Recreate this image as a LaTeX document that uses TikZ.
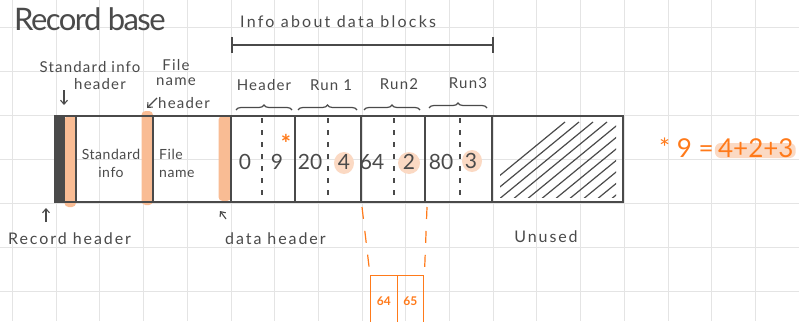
\documentclass[tikz,border=0pt]{standalone}
\usepackage{fontspec}
\setmainfont{Lato}
\usetikzlibrary{decorations.pathreplacing,arrows.meta,backgrounds}
\definecolor{ink}{HTML}{4A4A4A}
\definecolor{gridc}{HTML}{E4E4E4}
\definecolor{peach}{HTML}{F9BC94}
\definecolor{softpeach}{HTML}{FBD9C3}
\definecolor{orng}{HTML}{FF7A1A}
\tikzset{
  lbl/.style={text=ink, inner sep=0pt, font=\fontsize{15}{16}\selectfont\addfontfeature{LetterSpace=8}},
  lowlbl/.style={text=ink, inner sep=0pt, font=\fontsize{16}{16}\selectfont\addfontfeature{LetterSpace=12}},
  cell/.style={text=ink, inner sep=0pt, font=\fontsize{14}{15}\selectfont\addfontfeature{LetterSpace=4}},
  num/.style={text=ink, inner sep=0pt, font=\fontsize{21}{21}\selectfont},
  bar/.style={draw=ink, line width=1.8pt},
  sep/.style={draw=ink, line width=1.3pt},
  dsep/.style={draw=ink, line width=1.1pt, dash pattern=on 5pt off 7pt},
  strip/.style={fill=peach, draw=none, rounded corners=4pt},
  hilite/.style={fill=softpeach, draw=none},
  pointer/.style={draw=ink, line width=1.1pt, -{Straight Barb[length=4pt,width=7pt]}},
  bracetop/.style={draw=ink, line width=1.2pt, decorate, decoration={brace, amplitude=5pt}},
  olink/.style={draw=orng, line width=1.2pt, dash pattern=on 12pt off 12pt},
  obox/.style={draw=orng, line width=1.4pt},
  otext/.style={text=orng, inner sep=0pt},
}
\begin{document}
\begin{tikzpicture}[x=1pt,y=-1pt]
\useasboundingbox (0,0) rectangle (799,321);
\begin{scope}[on background layer]
\fill[white] (0,0) rectangle (799,321);
% squared paper
\foreach \k in {0,...,18} \draw[gridc, line width=0.9pt] (12.5+43.7*\k,0) -- (12.5+43.7*\k,321);
\foreach \k in {0,...,6} \draw[gridc, line width=0.9pt] (0,27.5+44*\k) -- (799,27.5+44*\k);
\end{scope}

% title and top bracket
\node[text=ink, inner sep=0pt, anchor=west, font=\fontsize{31}{31}\selectfont\addfontfeature{LetterSpace=-5}] (title) at (14,19) {Record base};
\node[text=ink, inner sep=0pt, anchor=west, font=\fontsize{16}{16}\selectfont\addfontfeature{LetterSpace=14}] (info) at (240,22) {Info about data blocks};
\coordinate (infoL) at (232,45);
\coordinate (infoR) at (493,45);
\draw[ink, line width=2.2pt] (infoL) -- (infoR);
\draw[ink, line width=2.2pt] (232,37) -- (232,53) (493,37) -- (493,53);

% orange strips behind the header separators
\fill[strip] (64.5,116) rectangle (76,207);
\fill[strip] (141.5,111) rectangle (153,205);
\fill[strip] (218.5,116) rectangle (231,201);
\fill[ink] (55,116) rectangle (65,202);

% highlights behind the run lengths
\fill[hilite] (344,163) ellipse (10pt and 11pt);
\fill[hilite] (409,163) ellipse (11pt and 11pt);
\fill[hilite] (472,161) ellipse (10pt and 11pt);

% record outline and separators
\draw[bar] (55,116) rectangle (623,202);
\draw[sep] (76,116) -- (76,202);
\draw[sep] (153,116) -- (153,202);
\draw[sep] (231,116) -- (231,202);
\foreach \x in {295,361,425,492} \draw[sep] (\x,116) -- (\x,202);
\foreach \x in {262,328,394,460} \draw[dsep] (\x,118) -- (\x,200);

% hatched unused space
\begin{scope}
\clip (500,121) rectangle (616,197);
\foreach \s in {0,...,11} \draw[ink, line width=1.2pt] (470+14*\s,200) -- (565+14*\s,122);
\end{scope}

% cell contents
\node[cell, align=center] (stdinfo) at (111,163) {Standard\\[3pt]info};
\node[cell, align=left, anchor=west] (fname) at (159,163) {File\\[3pt]name};
\node[num] (n0) at (245,162) {0};
\node[num] (n9) at (277,162) {9};
\node[num] (n20) at (310,162) {20};
\node[num] (n4) at (344,162) {4};
\node[num] (n64) at (372,162) {64};
\node[num] (n2) at (409,162) {2};
\node[num] (n80) at (441,162) {80};
\node[num] (n3) at (471,161) {3};
\node[otext, font=\fontsize{24}{24}\selectfont\bfseries] (star) at (286,143) {*};

% block run labels with braces
\node[lbl] (hdr) at (264,85) {Header};
\node[lbl] (run1) at (331,85) {Run 1};
\node[lbl] (run2) at (399,84) {Run2};
\node[lbl] (run3) at (468,83) {Run3};
\draw[bracetop] (236,110) -- (292,110);
\draw[bracetop] (298,110) -- (357,110);
\draw[bracetop] (364,110) -- (420,110);
\draw[bracetop] (429,108) -- (487,108);

% header labels above the record
\node[lbl] (stdhdr1) at (90,67) {Standard info};
\node[lbl] (stdhdr2) at (100,84) {header};
\node[lbl] (fnhdr1) at (176,65) {File};
\node[lbl] (fnhdr2) at (176,82) {name};
\node[lbl] (fnhdr3) at (184,103) {header};
\coordinate (a1s) at (64,90);
\coordinate (a1e) at (64,105);
\draw[pointer] (a1s) -- (a1e);
\coordinate (a2s) at (157,98);
\coordinate (a2e) at (147,108);
\draw[pointer] (a2s) -- (a2e);

% header labels below the record
\coordinate (a3s) at (46,222);
\coordinate (a3e) at (46,208);
\draw[pointer] (a3s) -- (a3e);
\node[lowlbl, anchor=west] (rechdr) at (8,239) {Record header};
\coordinate (a4s) at (226,219);
\coordinate (a4e) at (220,211);
\draw[pointer] (a4s) -- (a4e);
\node[lowlbl, anchor=west] (datahdr) at (225,239) {data header};
\node[lowlbl] (unused) at (546,237) {Unused};

% zoom into the second run
\node[obox, minimum width=26.5pt, minimum height=48pt, inner sep=0pt, anchor=north west] (b64) at (370,275) {};
\node[obox, minimum width=26.5pt, minimum height=48pt, inner sep=0pt, anchor=north west] (b65) at (396.5,275) {};
\node[otext, font=\fontsize{12}{12}\selectfont\bfseries] at ([yshift=-26pt]b64.north) {64};
\node[otext, font=\fontsize{12}{12}\selectfont\bfseries] at ([yshift=-26pt]b65.north) {65};
\coordinate (runL) at (362,207);
\coordinate (runR) at (427,207);
\draw[olink] (runL) -- (b64.north west);
\draw[olink] (runR) -- (b65.north east);

% footnote on the header count
\node[otext, anchor=base west, font=\fontsize{26}{26}\selectfont] (note) at (659,157) {* 9 =};
\node[otext, anchor=base west, font=\fontsize{26}{26}\selectfont] (sum) at ([xshift=4pt]note.base east) {4+2+3};
\begin{scope}[on background layer]
\fill[hilite, rounded corners=6pt] ([xshift=-3pt,yshift=-1pt]sum.base west) rectangle ([xshift=2pt,yshift=14pt]sum.base east);
\end{scope}
\end{tikzpicture}
\end{document}
